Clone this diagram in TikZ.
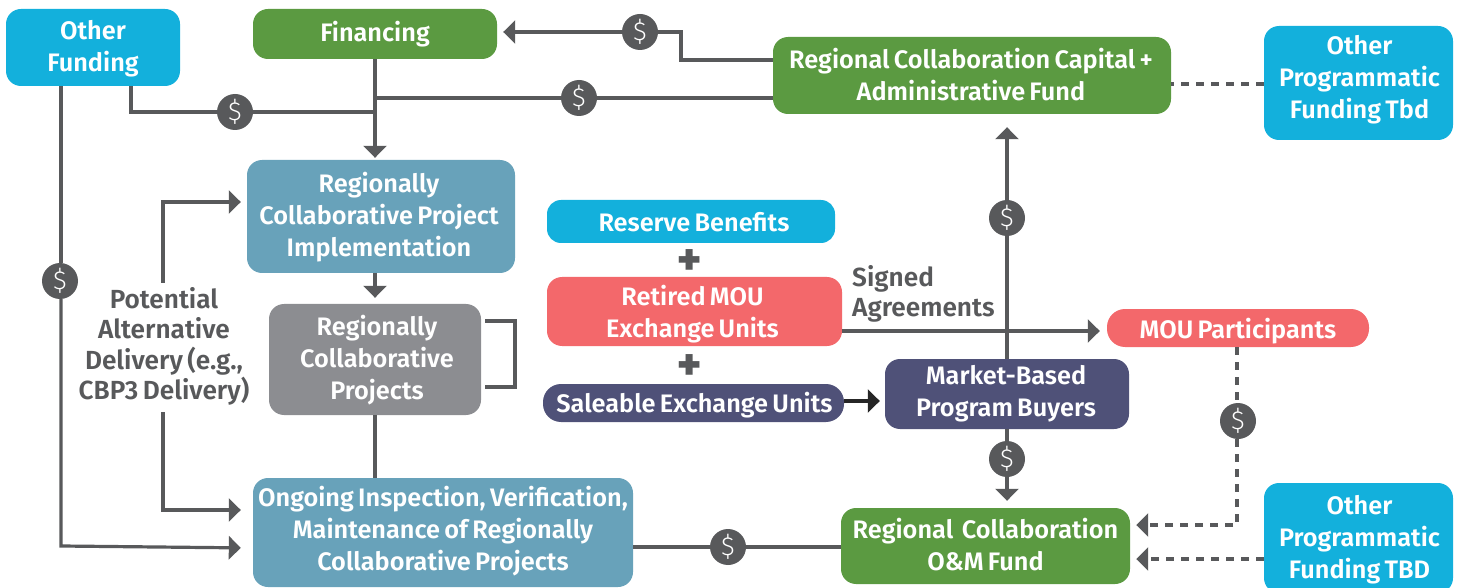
\documentclass[tikz,border=0pt]{standalone}
\usepackage{fontspec}
\setmainfont{Fira Sans}[UprightFont=* SemiBold,WordSpace=0.7]
\newfontfamily\dollarfont{Fira Sans Light}
\usetikzlibrary{arrows.meta,calc}
\definecolor{cyanbox}{HTML}{13B0DC}
\definecolor{greenbox}{HTML}{5B9A41}
\definecolor{tealbox}{HTML}{68A2BA}
\definecolor{greybox}{HTML}{8C8D91}
\definecolor{redbox}{HTML}{F3686B}
\definecolor{navybox}{HTML}{4F5178}
\definecolor{linegrey}{HTML}{58595B}
\tikzset{
  box/.style={rounded corners=#1,inner sep=0pt},
  box/.default=15pt,
  boxtext/.style={inner sep=0pt,align=center,text=white,font=\fontsize{25.3}{32}\selectfont},
  txt/.style n args={3}{label={[boxtext,xshift=#1pt,yshift=#2pt]center:{#3}}},
  label text/.style={inner sep=0pt,text=linegrey,font=\fontsize{26.2}{30.3}\selectfont},
  badge/.style={circle,fill=linegrey,text=white,minimum size=36pt,inner sep=0pt,font=\dollarfont\fontsize{26}{26}\selectfont},
  conn/.style={draw=linegrey,line width=3.2pt},
  arr/.style={conn,-{Triangle[length=12pt,width=23pt]}},
  dashconn/.style={conn,dash pattern=on 8pt off 7pt},
  dasharr/.style={dashconn,-{Triangle[length=12pt,width=23pt]}},
  darkarr/.style={draw=black!85,line width=3.2pt,-{Triangle[length=12pt,width=23pt]}},
  plus/.style={text=linegrey,inner sep=0pt,font=\bfseries\fontsize{44}{44}\selectfont},
}
\begin{document}
\begin{tikzpicture}[x=1pt,y=-1pt]
\useasboundingbox (0,0) rectangle (1460,588);
% boxes
\node[box,fill=cyanbox,minimum width=174pt,minimum height=77pt,txt={0}{-1.5}{Other\\Funding}] (ofund) at (93,47.5) {};
\node[box,fill=greenbox,minimum width=244pt,minimum height=50pt,txt={0}{0}{Financing}] (fin) at (375,34) {};
\node[box,fill=greenbox,minimum width=398pt,minimum height=77pt,txt={-1}{1}{Regional Collaboration Capital +\\Administrative Fund}] (cap) at (972,75.5) {};
\node[box,fill=cyanbox,minimum width=189pt,minimum height=114pt,txt={1}{3}{Other\\Programmatic\\Funding Tbd}] (optop) at (1358.5,83) {};
\node[box,fill=tealbox,minimum width=268pt,minimum height=113pt,txt={-2}{-1}{Regionally\\Collaborative Project\\Implementation}] (rcpi) at (381,216.5) {};
\node[box=14pt,fill=cyanbox,minimum width=288pt,minimum height=43pt,txt={3}{-1}{Reserve Benefits}] (res) at (691,221.5) {};
\node[box,fill=redbox,minimum width=295pt,minimum height=69pt,txt={-2}{-3}{Retired MOU\\Exchange Units}] (ret) at (694.5,311.5) {};
\node[box=18pt,fill=navybox,minimum width=301pt,minimum height=38pt,txt={1}{-2}{Saleable Exchange Units}] (sale) at (693.5,403) {};
\node[box=18pt,fill=redbox,minimum width=262pt,minimum height=38pt,txt={0}{-3}{MOU Participants}] (mou) at (1238,328) {};
\node[box,fill=navybox,minimum width=244pt,minimum height=70pt,txt={-1}{0}{Market-Based\\Program Buyers}] (buy) at (1007,394) {};
\node[box,fill=greybox,minimum width=212pt,minimum height=111pt,txt={2}{-1}{Regionally\\Collaborative\\Projects}] (proj) at (375,359.5) {};
\node[box,fill=tealbox,minimum width=380pt,minimum height=109pt,txt={0}{1}{Ongoing Inspection, Verification,\\Maintenance of Regionally\\Collaborative Projects}] (ong) at (443,532.5) {};
\node[box,fill=greenbox,minimum width=289pt,minimum height=76pt,txt={0}{1}{Regional\ \ Collaboration\\O\&M Fund}] (om) at (985.5,546) {};
\node[box,fill=cyanbox,minimum width=189pt,minimum height=110pt,txt={1}{-2}{Other\\Programmatic\\Funding TBD}] (opbot) at (1358.5,538) {};
% texts
\node[label text,align=center] (alt) at (164,346.5) {Potential\\Alternative\\Delivery (e.g.,\\CBP3 Delivery)};
\node[label text,align=left,anchor=north west] (sig) at (852,265) {Signed\\Agreements};
\node[plus] (p1) at (690,262) {+};
\node[plus] (p2) at (690,367) {+};
% badges
\node[badge] (b1) at (640,32) {\$};
\node[badge] (b2) at (235,112) {\$};
\node[badge] (b3) at (579,98) {\$};
\node[badge] (b4) at (60,281) {\$};
\node[badge] (b5) at (1007,218) {\$};
\node[badge] (b6) at (1007,459) {\$};
\node[badge] (b7) at (1238,421) {\$};
\node[badge] (b8) at (728,547) {\$};
% junction / end coordinates
\coordinate (j1) at (375,112);
\coordinate (j2) at (375,98);
\coordinate (brT) at (485,321);
\coordinate (brB) at (485,387);
% connectors
\draw[conn] (cap.west |- 0,60) -- (681,60) -- (681,32) -- (b1);
\draw[arr,shorten >=6pt] (b1) -- (fin.east |- b1);
\draw[conn] (ofund.south -| 131,0) -- (131,112) -- (b2);
\draw[conn] (b2) -- (j1);
\draw[conn] (cap.west |- b3) -- (b3);
\draw[conn] (b3) -- (j2);
\draw[arr,shorten >=2pt] (fin.south) -- (rcpi.north -| fin.south);
\draw[conn] (ofund.south -| 61,0) -- (61,263);
\draw[arr,shorten >=12pt] (61,299) -- (61,546) -- (ong.west |- 0,548);
\draw[arr,shorten >=6pt] (163,283) -- (163,202) -- (rcpi.west |- 0,202);
\draw[arr,shorten >=12pt] (163,412) -- (163,510) -- (ong.west |- 0,510);
\draw[arr,shorten >=6pt] (375,273) -- (proj.north -| 375,0);
\draw[conn] (brT) -- (515,321) -- (515,387) -- (brB);
\draw[conn] (proj.south) -- (ong.north -| proj.south);
\draw[conn] (ong.east |- b8) -- (b8);
\draw[conn] (b8) -- (om.west |- b8);
\draw[arr,shorten >=7pt] (ret.east |- 0,331) -- (mou.west |- 0,331);
\draw[conn] (buy.north) -- (b5);
\draw[arr,shorten >=13pt] (b5) -- (cap.south -| buy.north);
\draw[darkarr,shorten >=5pt] (sale.east |- 0,401) -- (buy.west |- 0,401);
\draw[conn] (buy.south) -- (b6);
\draw[arr,shorten >=7pt] (b6) -- (om.north -| buy.south);
\draw[dashconn] (1237,347) -- (1237,403);
\draw[dasharr,shorten >=6pt] (1237,439) -- (1237,525) -- (om.east |- 0,525);
\draw[dasharr,shorten >=6pt] (opbot.west |- 0,559) -- (om.east |- 0,559);
\draw[dashconn] (optop.west |- 0,84) -- (cap.east |- 0,84);
\end{tikzpicture}
\end{document}
